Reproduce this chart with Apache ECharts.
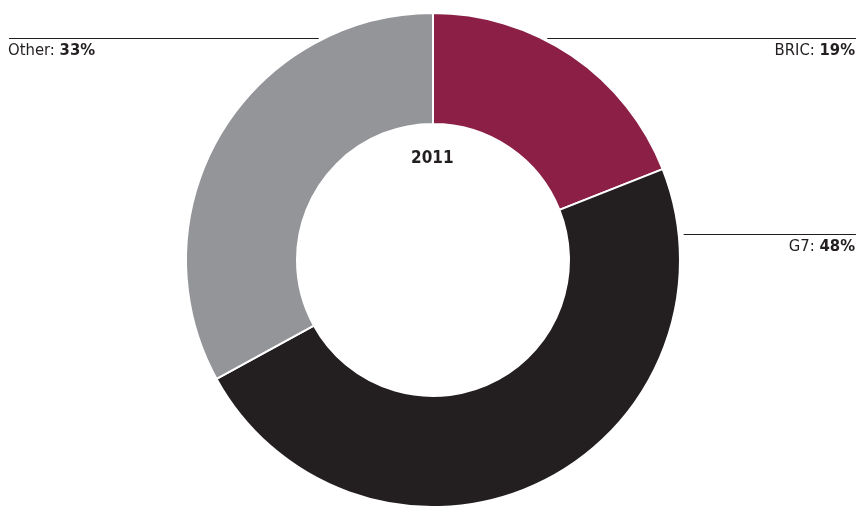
<!DOCTYPE html>
<html>
<head>
<meta charset="utf-8">
<script src="https://cdn.jsdelivr.net/npm/echarts@6/dist/echarts.min.js"></script>
<style>
html,body{margin:0;padding:0;background:#fff;}
#c{width:860px;height:506px;}
</style>
</head>
<body>
<div id="c"></div>
<script>
const categories = ['BRIC', 'G7', 'Other'];
const values = [19, 48, 33];
const yearLabel = '2011';

const colors = ['#8B1F45', '#231F20', '#939598'];
const FONT = "'Liberation Sans Narrow', 'DejaVu Sans Condensed', 'Roboto', sans-serif";
const W = 860, CX = 433, CY = 260, R_IN = 136, R_OUT = 247;
// label line heights and side (layout)
const labelPlace = {
  BRIC: { y: 38.5, side: 'right' },
  G7: { y: 234.5, side: 'right' },
  Other: { y: 38.5, side: 'left' }
};

const chart = echarts.init(document.getElementById('c'), null, { renderer: 'canvas' });
chart.setOption({
  animation: false,
  backgroundColor: '#fff',
  graphic: [{
    type: 'text', left: CX - 22, top: 150,
    style: { text: yearLabel, font: "bold 17px " + FONT, fill: '#231F20' }
  }],
  series: [{
    type: 'pie',
    center: [CX, CY],
    radius: [R_IN, R_OUT],
    startAngle: 90,
    clockwise: true,
    silent: true,
    data: categories.map((c, i) => ({ name: c, value: values[i], itemStyle: { color: colors[i] } })),
    itemStyle: { borderColor: '#fff', borderWidth: 2 },
    label: {
      show: true,
      formatter: '{a|{b}: }{b|{c}%}',
      rich: {
        a: { fontFamily: FONT, fontSize: 16.5, color: '#231F20' },
        b: { fontFamily: FONT, fontSize: 16.5, fontWeight: 'bold', color: '#231F20' }
      }
    },
    labelLine: { show: true, lineStyle: { color: '#231F20', width: 1, opacity: 1 } },
    labelLayout: function (p) {
      const name = categories[p.dataIndex];
      const pl = labelPlace[name];
      const dx = Math.sqrt(R_OUT * R_OUT - (pl.y - CY) * (pl.y - CY));
      if (pl.side === 'left') {
        const xe = CX - dx - 5;
        return { x: 8, y: pl.y + 4, align: 'left', verticalAlign: 'top',
          labelLinePoints: [[xe, pl.y], [9, pl.y], [9, pl.y]] };
      } else {
        const xs = CX + dx + 5;
        return { x: W - 5, y: pl.y + 4, align: 'right', verticalAlign: 'top',
          labelLinePoints: [[xs, pl.y], [W - 4, pl.y], [W - 4, pl.y]] };
      }
    }
  }]
});
</script>
</body>
</html>
